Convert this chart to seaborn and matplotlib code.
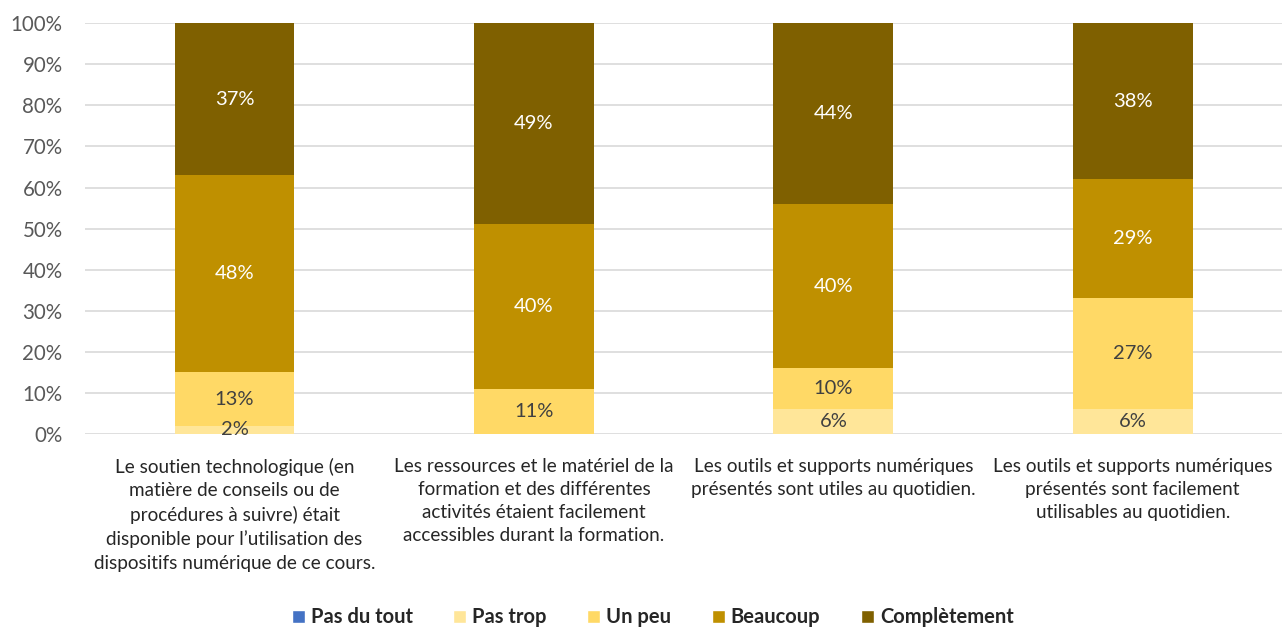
import matplotlib
matplotlib.use("Agg")
import matplotlib.pyplot as plt
import numpy as np
import pandas as pd
import seaborn as sns
from matplotlib.patches import Patch

categories = [
    "Le soutien technologique (en\nmatière de conseils ou de\nprocédures à suivre) était\ndisponible pour l’utilisation des\ndispositifs numérique de ce cours.",
    "Les ressources et le matériel de la\nformation et des différentes\nactivités étaient facilement\naccessibles durant la formation.",
    "Les outils et supports numériques\nprésentés sont utiles au quotidien.",
    "Les outils et supports numériques\nprésentés sont facilement\nutilisables au quotidien.",
]
series = ["Pas du tout", "Pas trop", "Un peu", "Beaucoup", "Complètement"]
pas_du_tout = [0, 0, 0, 0]
pas_trop = [2, 0, 6, 6]
un_peu = [13, 11, 10, 27]
beaucoup = [48, 40, 40, 29]
completement = [37, 49, 44, 38]
colors = ["#4472C4", "#FFE699", "#FFD966", "#BF9000", "#7F6000"]
label_colors = ["#404040", "#404040", "#404040", "white", "white"]

sns.set_style("white")
plt.rcParams["font.family"] = ["Lato", "DejaVu Sans"]

fig = plt.figure(figsize=(12.85, 6.28), dpi=100)
ax = fig.add_axes([0.066, 0.309, 0.932, 0.654])

values = [pas_du_tout, pas_trop, un_peu, beaucoup, completement]
bottom = np.zeros(len(categories))
for name, vals, col, lc in zip(series, values, colors, label_colors):
    df = pd.DataFrame({"cat": range(len(categories)), "val": vals})
    sns.barplot(data=df, x="cat", y="val", color=col, bottom=bottom,
                width=0.4, ax=ax, saturation=1, order=range(len(categories)),
                linewidth=0, zorder=3)
    for i, v in enumerate(vals):
        if v > 0:
            ax.text(i, bottom[i] + v / 2, f"{v}%", ha="center", va="center",
                    fontsize=14.5, color=lc, zorder=4)
    bottom = bottom + np.array(vals)

ax.set_ylim(0, 100)
ax.set_xlim(-0.5, len(categories) - 0.5)
ax.set_yticks(range(0, 101, 10))
ax.set_yticklabels([f"{t}%" for t in range(0, 101, 10)], fontsize=14.8, color="#595959")
ax.set_xticks(range(len(categories)))
ax.set_xticklabels(categories, fontsize=13.6, color="#262626", linespacing=1.45)
ax.tick_params(axis="both", length=0)
ax.tick_params(axis="x", pad=17)
ax.tick_params(axis="y", pad=16)
ax.set_xlabel("")
ax.set_ylabel("")
ax.grid(axis="y", color="#D9D9D9", linewidth=1.2, zorder=0)
ax.set_axisbelow(True)
for s in ax.spines.values():
    s.set_visible(False)

handles = [Patch(facecolor=c, label=s) for s, c in zip(series, colors)]
fig.legend(handles=handles, loc="center", bbox_to_anchor=(0.508, 0.017), ncol=5,
           frameon=False, prop={"weight": "bold", "size": 14.5},
           handlelength=0.65, handleheight=0.65, handletextpad=0.3, columnspacing=2.0)

fig.savefig("out.png", dpi=100)
